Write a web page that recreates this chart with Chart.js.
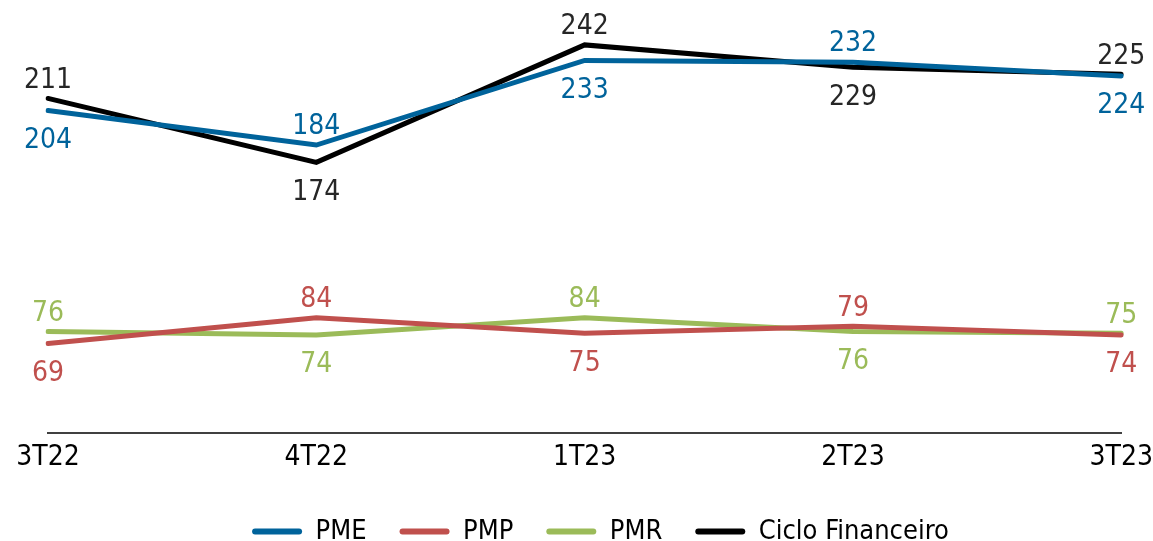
<!DOCTYPE html>
<html>
<head>
<meta charset="utf-8">
<script src="https://cdn.jsdelivr.net/npm/chart.js@4"></script>
<style>
  html, body { margin: 0; padding: 0; background: #fff; }
  #wrap { width: 1153px; height: 541px; }
</style>
</head>
<body>
<div id="wrap"><canvas id="myChart"></canvas></div>
<script>
const FONT = '"Liberation Sans Narrow", "DejaVu Sans Condensed", "Roboto", sans-serif';

// dados
const periodos = ['3T22', '4T22', '1T23', '2T23', '3T23'];
const pme = [204, 184, 233, 232, 224];
const pmp = [69, 84, 75, 79, 74];
const pmr = [76, 74, 84, 76, 75];
const ciclo = [211, 174, 242, 229, 225];

// posição dos rótulos: 1 = acima, -1 = abaixo
const posPme = [-1, 1, -1, 1, -1];
const posPmp = [-1, 1, -1, 1, -1];
const posPmr = [1, -1, 1, -1, 1];
const posCiclo = [1, -1, 1, -1, 1];

const azul = '#00639B';
const vermelho = '#C0504D';
const verde = '#9BBB59';
const preto = '#000000';

// plugin simples para os rótulos de valor
const rotulos = {
  id: 'rotulos',
  afterDatasetsDraw(chart) {
    const ctx = chart.ctx;
    ctx.save();
    ctx.font = '28px ' + FONT;
    ctx.textAlign = 'center';
    ctx.textBaseline = 'middle';
    chart.data.datasets.forEach((ds, i) => {
      const meta = chart.getDatasetMeta(i);
      meta.data.forEach((pt, j) => {
        const acima = ds.labelPos[j] > 0;
        ctx.fillStyle = ds.labelColor;
        ctx.fillText(String(ds.data[j]), pt.x, acima ? pt.y - 18 : pt.y + 30);
      });
    });
    ctx.restore();
  }
};

const ctx = document.getElementById('myChart').getContext('2d');
new Chart(ctx, {
  type: 'line',
  data: {
    labels: periodos,
    datasets: [
      { label: 'PME', data: pme, borderColor: azul, backgroundColor: azul, labelColor: azul, labelPos: posPme },
      { label: 'PMP', data: pmp, borderColor: vermelho, backgroundColor: vermelho, labelColor: vermelho, labelPos: posPmp },
      { label: 'PMR', data: pmr, borderColor: verde, backgroundColor: verde, labelColor: verde, labelPos: posPmr },
      { label: 'Ciclo Financeiro', data: ciclo, borderColor: preto, backgroundColor: preto, labelColor: '#262626', labelPos: posCiclo },
    ].map(d => Object.assign(d, { borderWidth: 5, pointRadius: 0, tension: 0, borderCapStyle: 'round' })),
  },
  options: {
    responsive: true,
    maintainAspectRatio: false,
    animation: false,
    layout: { padding: { left: 48, right: 0, top: 0, bottom: -14 } },
    plugins: {
      tooltip: { enabled: false },
      legend: {
        position: 'bottom',
        labels: {
          font: { family: FONT, size: 27 },
          color: '#000',
          boxWidth: 50,
          boxHeight: 6,
          useBorderRadius: true,
          borderRadius: 3,
          padding: 33,
          // caixa da legenda sem contorno, só a barrinha
          generateLabels(chart) {
            const items = Chart.defaults.plugins.legend.labels.generateLabels(chart);
            items.forEach(it => { it.lineWidth = 0; });
            return items;
          },
        },
      },
    },
    scales: {
      x: {
        offset: false,
        grid: { display: true, drawOnChartArea: false, drawTicks: true, tickLength: 8, tickColor: 'rgba(0,0,0,0)' },
        border: { display: true, color: '#404040', width: 2 },
        ticks: { color: '#000', font: { family: FONT, size: 28 }, padding: 0, maxRotation: 0 },
        afterFit(scale) { scale.height += 10; }, // sobe o eixo sem mexer na legenda
      },
      y: {
        display: false,
        min: 17,
        max: 268,
      },
    },
  },
  plugins: [rotulos],
});
</script>
</body>
</html>
